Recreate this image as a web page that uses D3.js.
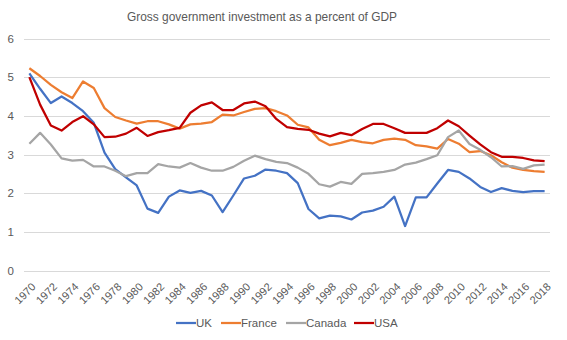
<!DOCTYPE html>
<html>
<head>
<meta charset="utf-8">
<script src="https://cdnjs.cloudflare.com/ajax/libs/d3/7.8.5/d3.min.js"></script>
<style>
  body { margin: 0; background: white; }
  svg { font-family: "Liberation Sans", "DejaVu Sans", sans-serif; }
  .grid line { stroke: #d9d9d9; stroke-width: 1; }
  .lab { fill: #595959; }
</style>
</head>
<body>
<div id="chart"></div>
<script>
const years = d3.range(1970, 2019);

const uk = [5.1, 4.7, 4.33, 4.5, 4.33, 4.12, 3.82, 3.05, 2.62, 2.41,
            2.2, 1.6, 1.49, 1.91, 2.07, 2.01, 2.06, 1.94, 1.51, 1.94,
            2.38, 2.45, 2.61, 2.58, 2.52, 2.26, 1.59, 1.35, 1.42, 1.4,
            1.32, 1.5, 1.55, 1.65, 1.91, 1.15, 1.89, 1.89, 2.25, 2.6,
            2.55, 2.38, 2.16, 2.03, 2.13, 2.06, 2.03, 2.05, 2.05];
const france = [5.23, 5.03, 4.8, 4.61, 4.46, 4.89, 4.72, 4.2, 3.97, 3.88,
                3.8, 3.86, 3.86, 3.78, 3.67, 3.78, 3.8, 3.84, 4.03, 4.01,
                4.1, 4.18, 4.2, 4.12, 4.01, 3.77, 3.7, 3.38, 3.24, 3.3,
                3.38, 3.32, 3.29, 3.38, 3.41, 3.38, 3.24, 3.21, 3.15, 3.4,
                3.28, 3.06, 3.09, 2.98, 2.8, 2.66, 2.6, 2.57, 2.55];
const canada = [3.28, 3.56, 3.26, 2.9, 2.84, 2.86, 2.69, 2.69, 2.58, 2.44,
                2.52, 2.52, 2.75, 2.69, 2.66, 2.78, 2.66, 2.58, 2.58, 2.68,
                2.84, 2.97, 2.88, 2.81, 2.78, 2.66, 2.5, 2.23, 2.17, 2.29,
                2.24, 2.5, 2.52, 2.55, 2.6, 2.74, 2.79, 2.88, 2.98, 3.45,
                3.62, 3.27, 3.12, 2.93, 2.69, 2.7, 2.63, 2.72, 2.74];
const usa = [5.0, 4.29, 3.75, 3.62, 3.84, 3.99, 3.78, 3.45, 3.46, 3.54,
             3.69, 3.48, 3.58, 3.63, 3.69, 4.08, 4.27, 4.35, 4.15, 4.15,
             4.32, 4.37, 4.25, 3.92, 3.71, 3.66, 3.64, 3.54, 3.47, 3.56,
             3.5, 3.66, 3.79, 3.79, 3.68, 3.56, 3.56, 3.56, 3.68, 3.88,
             3.73, 3.49, 3.26, 3.06, 2.94, 2.94, 2.91, 2.85, 2.83];

const seriesNames = ["UK", "France", "Canada", "USA"];
const seriesColors = ["#4472c4", "#ed7d31", "#a5a5a5", "#c00000"];
const yTicks = [0, 1, 2, 3, 4, 5, 6];
const xTickYears = years.filter(y => y % 2 === 0);

const width = 567, height = 340;
const plotLeft = 24, plotRight = 550, plotTop = 38.5, plotBottom = 270.5;

const svg = d3.select("#chart").append("svg")
    .attr("width", width)
    .attr("height", height);

const x = d3.scalePoint().domain(years).range([plotLeft, plotRight]).padding(0.5);
const y = d3.scaleLinear().domain([0, 6]).range([plotBottom, plotTop]);

// horizontal gridlines
svg.append("g").attr("class", "grid")
  .selectAll("line").data(yTicks).join("line")
    .attr("x1", plotLeft).attr("x2", plotRight)
    .attr("y1", d => Math.round(y(d)) + 0.5)
    .attr("y2", d => Math.round(y(d)) + 0.5);

// y labels
svg.append("g").selectAll("text").data(yTicks).join("text")
    .attr("class", "lab")
    .attr("x", 14)
    .attr("y", d => y(d) + 4)
    .attr("text-anchor", "end")
    .style("font-size", "11.5px")
    .text(d => d);

// x labels, rotated
svg.append("g").selectAll("text").data(xTickYears).join("text")
    .attr("class", "lab")
    .attr("text-anchor", "end")
    .attr("transform", d => `translate(${x(d) + 7},${plotBottom + 17}) rotate(-45)`)
    .style("font-size", "11px")
    .text(d => d);

const line = d3.line()
    .x((d, i) => x(years[i]))
    .y(d => y(d));

const allSeries = [uk, france, canada, usa];
svg.append("g").selectAll("path").data(allSeries).join("path")
    .attr("fill", "none")
    .attr("stroke", (d, i) => seriesColors[i])
    .attr("stroke-width", 2.25)
    .attr("stroke-linejoin", "round")
    .attr("d", line);

// title
svg.append("text")
    .attr("class", "lab")
    .attr("x", 262)
    .attr("y", 21)
    .attr("text-anchor", "middle")
    .style("font-size", "13px")
    .attr("textLength", 270)
    .attr("lengthAdjust", "spacingAndGlyphs")
    .text("Gross government  investment  as a percent of GDP");

// legend
const legendX = [176, 221, 286, 354];
const legend = svg.append("g").selectAll("g").data(seriesNames).join("g")
    .attr("transform", (d, i) => `translate(${legendX[i]},323)`);
legend.append("line")
    .attr("x1", 0).attr("x2", 20)
    .attr("stroke", (d, i) => seriesColors[i])
    .attr("stroke-width", 2.25);
legend.append("text")
    .attr("class", "lab")
    .attr("x", 20)
    .attr("y", 4)
    .style("font-size", "11.5px")
    .text(d => d);
</script>
</body>
</html>
